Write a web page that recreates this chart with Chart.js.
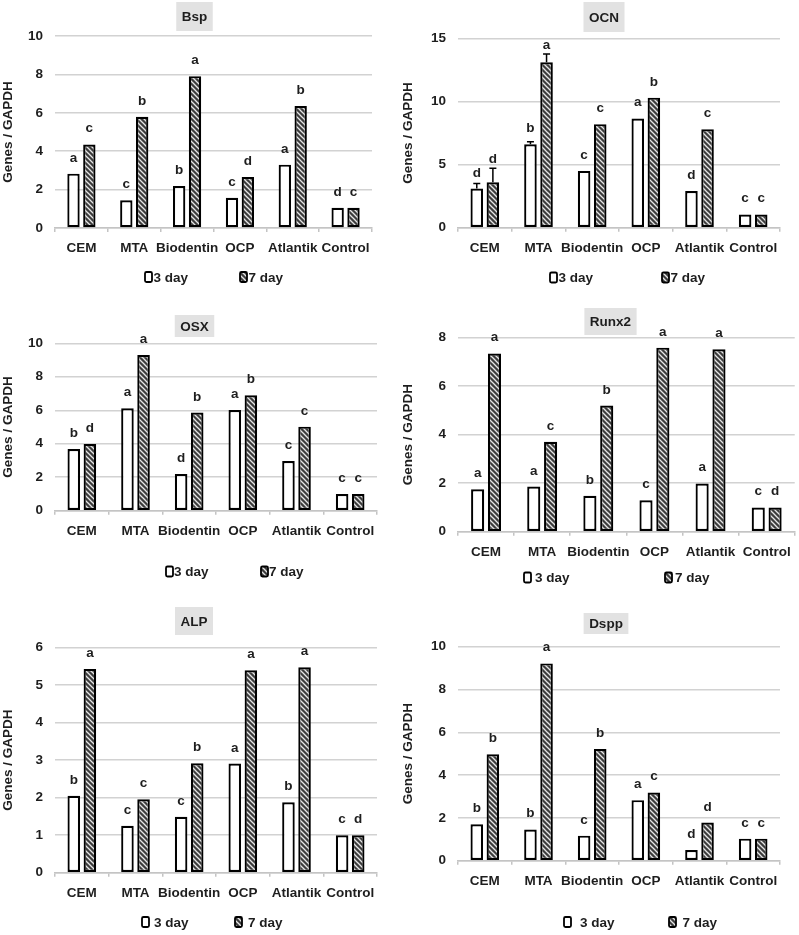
<!DOCTYPE html>
<html>
<head>
<meta charset="utf-8">
<title>Gene expression</title>
<script src="https://cdn.jsdelivr.net/npm/chart.js@4.4.1/dist/chart.umd.min.js"></script>
<style>
  body { margin: 0; background: #fff; }
  #wrap { position: relative; width: 799px; height: 935px; }
  canvas { position: absolute; }
</style>
</head>
<body>
<div id="wrap">
  <canvas id="bsp" width="400" height="300" style="left:0;top:0"></canvas>
  <canvas id="ocn" width="399" height="300" style="left:400px;top:0"></canvas>
  <canvas id="osx" width="400" height="300" style="left:0;top:300px"></canvas>
  <canvas id="runx2" width="399" height="300" style="left:400px;top:300px"></canvas>
  <canvas id="alp" width="400" height="335" style="left:0;top:600px"></canvas>
  <canvas id="dspp" width="399" height="335" style="left:400px;top:600px"></canvas>
</div>
<script>
const categories = ['CEM', 'MTA', 'Biodentin', 'OCP', 'Atlantik', 'Control'];
const seriesLabels = ['3 day', '7 day'];
const yTitle = 'Genes / GAPDH';

const bsp3 = [2.83, 1.44, 2.19, 1.57, 3.30, 1.05];
const bsp7 = [4.35, 5.79, 7.91, 2.66, 6.35, 1.05];
const bspSig3 = ['a', 'c', 'b', 'c', 'a', 'd'];
const bspSig7 = ['c', 'b', 'a', 'd', 'b', 'c'];

const ocn3 = [3.1, 6.6, 4.5, 8.65, 2.9, 1.05];
const ocn7 = [3.6, 13.1, 8.2, 10.3, 7.8, 1.05];
const ocnErr3 = [0.4, 0.2, 0, 0, 0, 0];
const ocnErr7 = [1.1, 0.65, 0, 0, 0, 0];
const ocnSig3 = ['d', 'b', 'c', 'a', 'd', 'c'];
const ocnSig7 = ['d', 'a', 'c', 'b', 'c', 'c'];

const osx3 = [3.69, 6.12, 2.19, 6.02, 2.97, 1.0];
const osx7 = [3.98, 9.3, 5.86, 6.9, 5.02, 1.0];
const osxSig3 = ['b', 'a', 'd', 'a', 'c', 'c'];
const osxSig7 = ['d', 'a', 'b', 'b', 'c', 'c'];

const runx3 = [1.75, 1.86, 1.48, 1.3, 1.99, 1.0];
const runx7 = [7.35, 3.71, 5.2, 7.59, 7.52, 1.0];
const runxSig3 = ['a', 'a', 'b', 'c', 'a', 'c'];
const runxSig7 = ['a', 'c', 'b', 'a', 'a', 'd'];

const alp3 = [2.05, 1.25, 1.49, 2.91, 1.88, 1.0];
const alp7 = [5.43, 1.96, 2.92, 5.4, 5.48, 1.0];
const alpSig3 = ['b', 'c', 'c', 'a', 'b', 'c'];
const alpSig7 = ['a', 'c', 'b', 'a', 'a', 'd'];

const dspp3 = [1.7, 1.46, 1.17, 2.83, 0.5, 1.03];
const dspp7 = [4.97, 9.22, 5.22, 3.19, 1.78, 1.03];
const dsppSig3 = ['b', 'b', 'c', 'a', 'd', 'c'];
const dsppSig7 = ['b', 'a', 'b', 'c', 'd', 'c'];

// axis ranges: [max, step]
const bspAxis = [10, 2];
const ocnAxis = [15, 5];
const osxAxis = [10, 2];
const runxAxis = [8, 2];
const alpAxis = [6, 1];
const dsppAxis = [10, 2];

const genes = [
    { id: 'bsp', title: 'Bsp', d3: bsp3, d7: bsp7, s3: bspSig3, s7: bspSig7, axis: bspAxis },
    { id: 'ocn', title: 'OCN', d3: ocn3, d7: ocn7, s3: ocnSig3, s7: ocnSig7, axis: ocnAxis, e3: ocnErr3, e7: ocnErr7 },
    { id: 'osx', title: 'OSX', d3: osx3, d7: osx7, s3: osxSig3, s7: osxSig7, axis: osxAxis },
    { id: 'runx2', title: 'Runx2', d3: runx3, d7: runx7, s3: runxSig3, s7: runxSig7, axis: runxAxis },
    { id: 'alp', title: 'ALP', d3: alp3, d7: alp7, s3: alpSig3, s7: alpSig7, axis: alpAxis },
    { id: 'dspp', title: 'Dspp', d3: dspp3, d7: dspp7, s3: dsppSig3, s7: dsppSig7, axis: dsppAxis }
];

// layout of each panel (canvas-local pixels)
const layouts = {
    bsp:   { area: [55, 36, 372, 228],   tX: 194.5, tY: 16.5, tH: 29, leg: [145, 240], legY: 277, gap: [8.5, 8.5] },
    ocn:   { area: [58, 38.3, 380, 227.7], tX: 204, tY: 17, tH: 30, leg: [150, 262], legY: 277.5, gap: [8.5, 8.5] },
    osx:   { area: [55, 43.3, 377, 210.7], tX: 194.5, tY: 26, tH: 22, leg: [166, 261], legY: 271.5, gap: [8, 8] },
    runx2: { area: [58, 37.7, 395, 231.7], tX: 210.5, tY: 21.5, tH: 27, leg: [124, 265], legY: 277.5, gap: [11, 10] },
    alp:   { area: [55, 47.7, 377, 272.7], tX: 194, tY: 21, tH: 28, leg: [142, 235], legY: 322, gap: [12, 13] },
    dspp:  { area: [58, 46.7, 380, 260.7], tX: 206, tY: 23.5, tH: 21, leg: [164, 269], legY: 322, gap: [16, 13.5] }
};

const FONT = "'Liberation Sans', Arial, sans-serif";
const TEXT = '#1e1e1e';
const FSIZE = 13.5;
Chart.defaults.font.family = FONT;
Chart.defaults.font.weight = 'bold';
Chart.defaults.color = TEXT;

function makeHatch() {
    const c = document.createElement('canvas');
    c.width = 5; c.height = 5;
    const g = c.getContext('2d');
    g.fillStyle = '#3d3d3d';
    g.fillRect(0, 0, 5, 5);
    g.strokeStyle = '#e6e6e6';
    g.lineWidth = 1.3;
    [-5, 0, 5].forEach(k => {
        g.beginPath();
        g.moveTo(k - 1, -1);
        g.lineTo(k + 6, 6);
        g.stroke();
    });
    return g.createPattern(c, 'repeat');
}
const hatch = makeHatch();

const decor = {
    id: 'decor',
    afterDatasetsDraw(chart, args, opts) {
        const ctx = chart.ctx;
        const y = chart.scales.y;
        ctx.save();
        [0, 1].forEach(i => {
            const meta = chart.getDatasetMeta(i);
            const errs = opts.errs[i];
            const sig = opts.sig[i];
            meta.data.forEach((bar, j) => {
                let top = bar.y - 12;
                if (errs && errs[j] > 0) {
                    const v = chart.data.datasets[i].data[j];
                    const ey = y.getPixelForValue(v + errs[j]);
                    ctx.strokeStyle = '#000';
                    ctx.lineWidth = 1.5;
                    ctx.beginPath();
                    ctx.moveTo(bar.x, bar.y);
                    ctx.lineTo(bar.x, ey);
                    ctx.moveTo(bar.x - 3.5, ey);
                    ctx.lineTo(bar.x + 3.5, ey);
                    ctx.stroke();
                    top = Math.min(top, ey - 5);
                }
                ctx.fillStyle = TEXT;
                ctx.font = 'bold ' + FSIZE + 'px ' + FONT;
                ctx.textAlign = 'center';
                ctx.textBaseline = 'alphabetic';
                ctx.fillText(sig[j], bar.x, top);
            });
        });
        ctx.restore();
    },
    afterDraw(chart, args, opts) {
        const ctx = chart.ctx;
        const L = opts.layout;
        ctx.save();
        // title with grey box
        ctx.font = 'bold ' + FSIZE + 'px ' + FONT;
        const tw = ctx.measureText(opts.title).width + 11;
        ctx.fillStyle = '#e2e2e2';
        ctx.fillRect(L.tX - tw / 2, L.tY - L.tH / 2, tw, L.tH);
        ctx.fillStyle = TEXT;
        ctx.textAlign = 'center';
        ctx.textBaseline = 'middle';
        ctx.fillText(opts.title, L.tX, L.tY + 1);
        // legend
        ctx.textAlign = 'left';
        chart.data.datasets.forEach((ds, i) => {
            const bx = L.leg[i];
            ctx.fillStyle = ds.backgroundColor;
            ctx.strokeStyle = '#000';
            ctx.lineWidth = 1.8;
            ctx.beginPath();
            ctx.roundRect(bx, L.legY - 5, 7, 10, 1.5);
            ctx.fill();
            ctx.stroke();
            ctx.fillStyle = TEXT;
            ctx.fillText(ds.label, bx + L.gap[i], L.legY + 1);
        });
        ctx.restore();
    }
};

genes.forEach(g => {
    const L = layouts[g.id];
    const canvas = document.getElementById(g.id);
    const W = canvas.width, H = canvas.height;
    new Chart(canvas.getContext('2d'), {
        type: 'bar',
        data: {
            labels: categories,
            datasets: [
                { label: seriesLabels[0], data: g.d3, backgroundColor: '#ffffff' },
                { label: seriesLabels[1], data: g.d7, backgroundColor: hatch }
            ]
        },
        options: {
            responsive: false,
            animation: false,
            layout: { padding: { left: 0, right: W - L.area[2], top: L.area[1], bottom: 0 } },
            datasets: {
                bar: {
                    borderColor: '#000',
                    borderWidth: 2.2,
                    borderSkipped: false,
                    categoryPercentage: 0.6,
                    barPercentage: 0.78
                }
            },
            scales: {
                x: {
                    offset: true,
                    ticks: { maxRotation: 0, minRotation: 0, autoSkip: false, padding: 8, font: { size: FSIZE }, color: TEXT },
                    grid: { offset: true, drawOnChartArea: false, drawTicks: true, tickLength: 4, color: '#c4c4c4', lineWidth: 1.5 },
                    border: { display: true, color: '#c4c4c4', width: 1.5 },
                    afterFit: s => { s.height = H - L.area[3]; }
                },
                y: {
                    min: 0,
                    max: g.axis[0],
                    ticks: { stepSize: g.axis[1], padding: 12, font: { size: FSIZE }, color: TEXT },
                    grid: { color: '#d2d2d2', lineWidth: 1.5, drawTicks: false },
                    border: { display: false },
                    title: { display: true, text: yTitle, font: { size: FSIZE }, color: TEXT, padding: 0 },
                    afterFit: s => { s.width = L.area[0]; }
                }
            },
            plugins: {
                legend: { display: false },
                tooltip: { enabled: false },
                decor: {
                    layout: L,
                    title: g.title,
                    sig: [g.s3, g.s7],
                    errs: [g.e3 || null, g.e7 || null]
                }
            }
        },
        plugins: [decor]
    });
});
</script>
</body>
</html>
